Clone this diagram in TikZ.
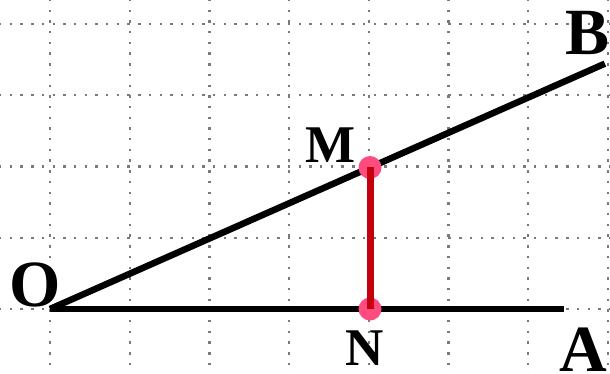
\documentclass[tikz,border=0pt]{standalone}
\usepackage{fontspec}
\setmainfont{Liberation Serif}
\usetikzlibrary{calc}
\definecolor{gridgray}{HTML}{7A7A7A}
\definecolor{segred}{HTML}{C4000E}
\definecolor{dotpink}{HTML}{FF4C80}
\tikzset{
  gridline/.style={gridgray, line width=2.4pt, dash pattern=on 2.4pt off 8.3pt},
  rayline/.style={black, line width=6.5pt},
  seg/.style={segred, line width=7pt},
  ptdot/.style={fill=dotpink, draw=none},
  biglbl/.style={inner sep=0pt, anchor=base, font=\fontsize{66}{66}\selectfont\bfseries},
  smalllbl/.style={inner sep=0pt, anchor=base, font=\fontsize{53}{53}\selectfont\bfseries}
}
\begin{document}
\begin{tikzpicture}[x=1pt,y=-1pt]
\useasboundingbox (0,0) rectangle (610,374);
\fill[white] (0,0) rectangle (610,374);
% grid
\foreach \gx in {50,129.7,209.4,289.1,368.8,448.5,528.2,607.9}
  \draw[gridline] (\gx,-1) -- (\gx,375);
\foreach \gy in {24,95.3,166.6,237.9,309.2}
  \draw[gridline] (-1,\gy) -- (611,\gy);
% points
\coordinate (O) at (50,309);
\coordinate (A) at (564,309);
\coordinate (M) at (370,167.5);
\coordinate (N) at (370,309);
\coordinate (B) at ($(O)!1.734!(M)$);
% rays
\draw[rayline] (O) -- (A);
\draw[rayline] (O) -- (B);
% dots
\fill[ptdot] (M) circle (11.5);
\fill[ptdot] (N) circle (11.5);
% segment
\draw[seg] (N) -- (M);
% labels
\node[biglbl] (lO) at (35,306) {O};
\node[biglbl] (lA) at (583,371) {A};
\node[biglbl] (lB) at (588,55) {B};
\node[smalllbl] (lM) at (331,163) {M};
\node[smalllbl] (lN) at (365,365) {N};
\end{tikzpicture}
\end{document}
